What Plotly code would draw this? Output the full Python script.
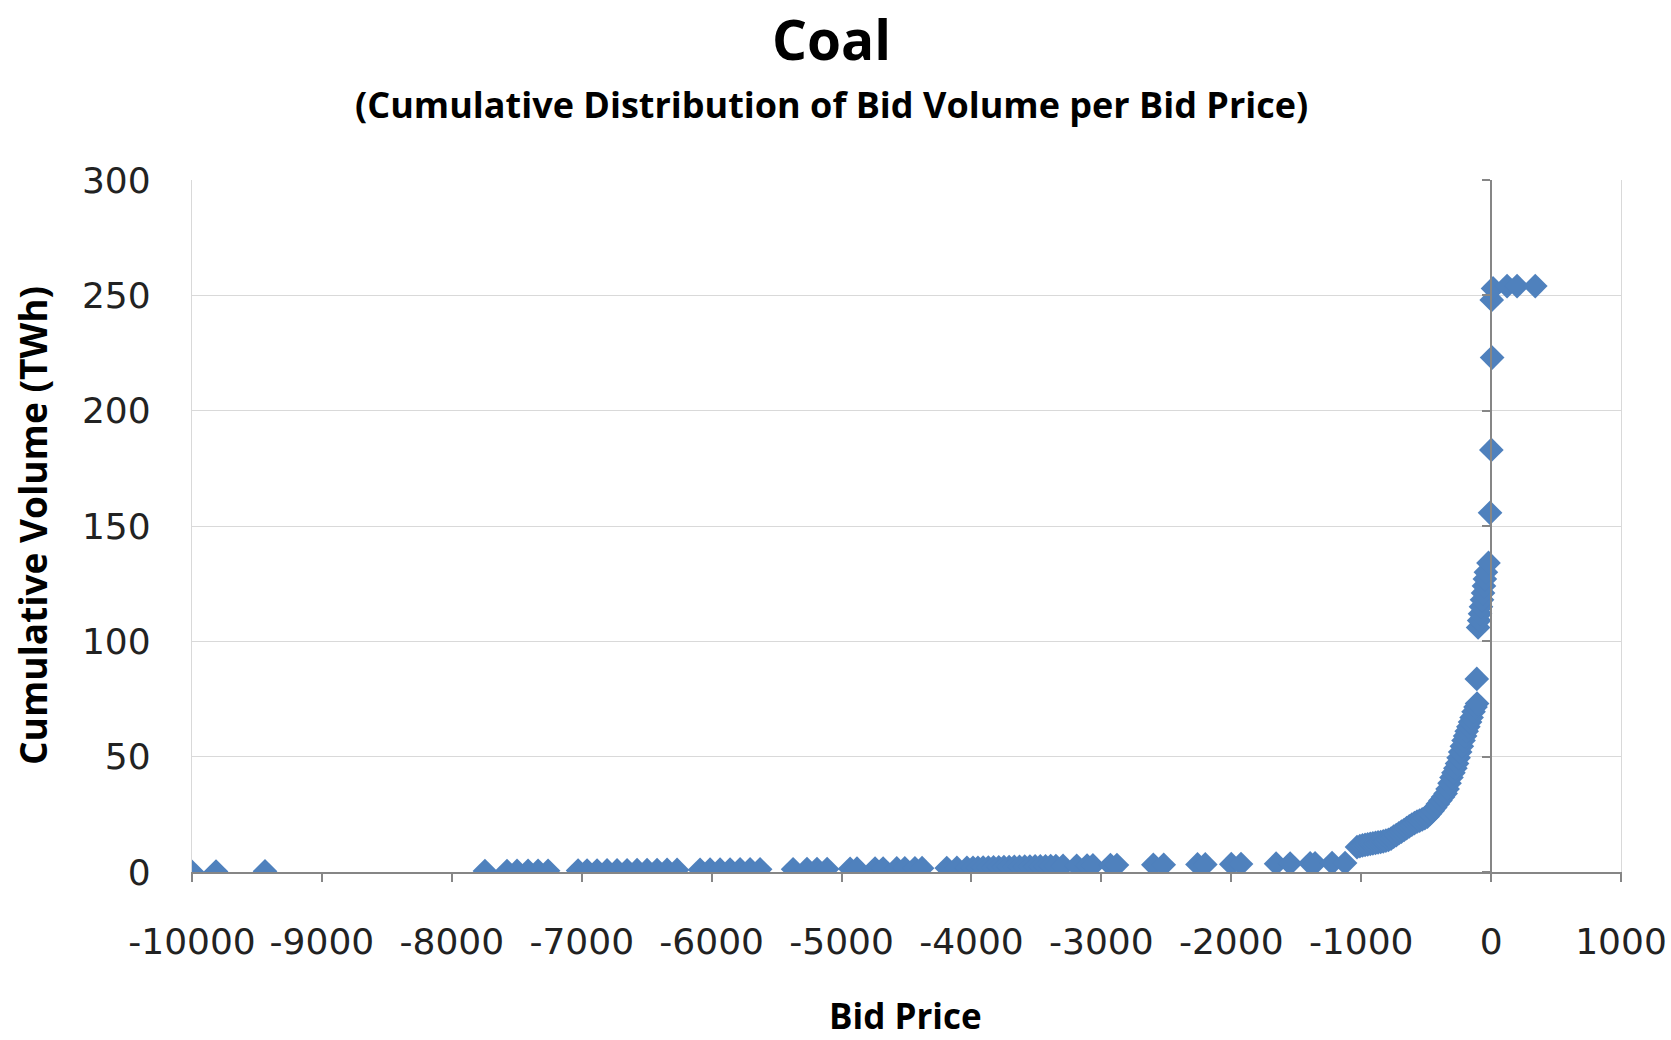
import plotly.graph_objects as go

# Bid price (x) and cumulative volume in TWh (y)
bid_price = [
    -10000, -9815, -9438,
    -7745, -7575, -7498, -7413, -7336, -7259, -7028, -6959, -6882, -6805,
    -6728, -6651, -6574, -6497, -6420, -6343, -6266, -6089, -6012, -5935,
    -5858, -5781, -5704, -5627, -5373, -5266, -5189, -5111, -4934,
    -4881, -4742, -4680, -4575, -4513, -4435, -4380, -4190, -4112, -4035,
    -3988, -3950, -3910, -3870, -3830, -3790, -3750, -3710, -3670, -3630,
    -3590, -3550, -3510, -3470, -3430, -3390, -3350, -3295, -3190, -3110,
    -3065, -2930, -2880, -2600, -2520, -2260, -2200, -2000, -1925,
    -1655, -1547, -1393, -1355, -1224, -1124,
    -1032, -1010, -990, -970, -950, -930, -910, -890, -870, -850, -830,
    -810, -790, -770, -750, -730, -710, -690, -670, -650, -630, -610,
    -590, -570, -550, -530, -510, -490, -470, -450, -430, -410, -390,
    -370, -350, -335, -320, -305, -290, -275, -262, -250, -238, -225,
    -212, -200, -188, -175, -162, -150, -135, -120, -108,
    -110, -100, -92, -85, -78, -70, -62, -55, -48, -40, -20,
    -8, 2, 8, 5, 15, 123, 200, 340,
]
cum_volume = [
    0.1, 0.2, 0.3,
    0.4, 0.4, 0.45, 0.5, 0.5, 0.55, 0.6, 0.6, 0.65, 0.7,
    0.7, 0.75, 0.8, 0.8, 0.85, 0.9, 0.9, 0.95, 1.0, 1.0,
    1.05, 1.1, 1.1, 1.15, 1.2, 1.25, 1.3, 1.3, 1.4,
    1.45, 1.5, 1.5, 1.55, 1.6, 1.6, 1.65, 1.7, 1.75, 1.8,
    1.8, 1.85, 1.9, 1.95, 2.0, 2.05, 2.1, 2.15, 2.2, 2.25,
    2.3, 2.35, 2.4, 2.45, 2.5, 2.55, 2.6, 2.65, 2.7, 2.8,
    2.85, 3.0, 3.0, 3.1, 3.15, 3.3, 3.3, 3.4, 3.45,
    3.6, 3.65, 3.75, 3.8, 3.85, 3.9,
    10.8, 11.2, 11.5, 11.8, 12.0, 12.2, 12.4, 12.6, 12.8, 13.0, 13.3,
    13.6, 13.9, 14.5, 15.3, 16.0, 16.8, 17.5, 18.2, 19.0, 19.8, 20.5,
    21.2, 21.8, 22.3, 22.8, 23.3, 24.0, 25.2, 26.5, 28.0, 29.5, 31.0,
    32.5, 34.0, 36.0, 38.5, 41.0, 43.0, 45.0, 47.0, 49.5, 52.0, 54.5,
    57.0, 59.0, 61.0, 63.0, 65.0, 67.0, 69.5, 71.5, 73.0,
    83.7, 106, 109, 112, 115, 118, 121, 124, 127, 130, 134,
    155.7, 183, 223, 248, 253, 254, 254, 254,
]

x_ticks = [-10000, -9000, -8000, -7000, -6000, -5000, -4000, -3000, -2000, -1000, 0, 1000]
x_tick_labels = ["-10000", "-9000", "-8000", "-7000", "-6000", "-5000", "-4000",
                 "-3000", "-2000", "-1000", "0", "1000"]
y_ticks = [0, 50, 100, 150, 200, 250, 300]
y_tick_labels = ["0", "50", "100", "150", "200", "250", "300"]

title_text = "Coal"
subtitle_text = "(Cumulative Distribution of Bid Volume per Bid Price)"
x_title = "Bid Price"
y_title = "Cumulative Volume (TWh)"

BLUE = "#4F81BD"
GRID = "#D9D9D9"
AXIS = "#868686"
TITLE_FONT = "Open Sans"
TICK_FONT = "DejaVu Sans"

# page body margin is removed (post_script below), so layout is in page pixels
W, H = 1671, 1040
PL, PR, PT, PB = 192, 1621, 180, 872          # plot area in page pixels
L, R, T, B = PL, W - PR, PT, H - PB
PW, PH = PR - PL, PB - PT


def px(xp):
    return (xp - PL) / PW


def py(yp):
    return (PB - yp) / PH


fig = go.Figure()
fig.add_trace(go.Scatter(
    x=bid_price, y=cum_volume, mode="markers",
    marker=dict(symbol="diamond", size=19, color=BLUE, line=dict(width=0)),
    showlegend=False, hoverinfo="x+y",
))
# invisible trace so yaxis2 (the axis line at x=0) is drawn
fig.add_trace(go.Scatter(x=[None], y=[None], yaxis="y2", showlegend=False, hoverinfo="skip"))

fig.update_layout(
    width=W, height=H,
    margin=dict(l=L, r=R, t=T, b=B, autoexpand=False),
    paper_bgcolor="white", plot_bgcolor="white",
    xaxis=dict(
        range=[-10000, 1000], tickvals=x_ticks, ticktext=x_tick_labels,
        automargin=False, ticklabeloverflow="allow",
        showgrid=False, zeroline=True, zerolinecolor=AXIS, zerolinewidth=1,
        showline=True, linecolor=AXIS, linewidth=1.5,
        ticks="outside", ticklen=8, tickcolor=AXIS, tickwidth=1.5,
        ticklabelstandoff=29,
        tickfont=dict(family=TICK_FONT, size=36, color="#222222"),
    ),
    yaxis=dict(
        range=[0, 300], tickvals=y_ticks, ticktext=y_tick_labels,
        automargin=False, ticklabeloverflow="allow",
        showgrid=True, gridcolor=GRID, gridwidth=1.3, zeroline=False,
        showline=True, mirror=True, linecolor=GRID, linewidth=1.3,
        ticks="", ticklabelstandoff=33,
        tickfont=dict(family=TICK_FONT, size=36, color="#222222"),
    ),
    yaxis2=dict(
        range=[0, 300], tickvals=y_ticks, overlaying="y", anchor="free",
        position=10000 / 11000, side="left", automargin=False,
        showgrid=False, zeroline=False, showticklabels=False,
        showline=True, linecolor=AXIS, linewidth=1.5,
        ticks="outside", ticklen=8, tickcolor=AXIS, tickwidth=1.5,
    ),
    annotations=[
        dict(text="<b>%s</b>" % title_text, xref="paper", yref="paper",
             x=px(831), y=py(39), xanchor="center", yanchor="middle",
             showarrow=False, font=dict(family=TITLE_FONT, size=55, color="black")),
        dict(text="<b>%s</b>" % subtitle_text, xref="paper", yref="paper",
             x=px(831), y=py(104), xanchor="center", yanchor="middle",
             showarrow=False, font=dict(family=TITLE_FONT, size=36, color="black")),
        dict(text="<b>%s</b>" % x_title, xref="paper", yref="paper",
             x=px(905), y=py(1015), xanchor="center", yanchor="middle",
             showarrow=False, font=dict(family=TITLE_FONT, size=35, color="black")),
        dict(text="<b>%s</b>" % y_title, xref="paper", yref="paper",
             x=px(32), y=0.5, xanchor="center", yanchor="middle",
             textangle=-90,
             showarrow=False, font=dict(family=TITLE_FONT, size=37, color="black")),
    ],
)

fig.write_html("out.html", config={"displayModeBar": False},
               post_script="document.body.style.margin='0px';")
